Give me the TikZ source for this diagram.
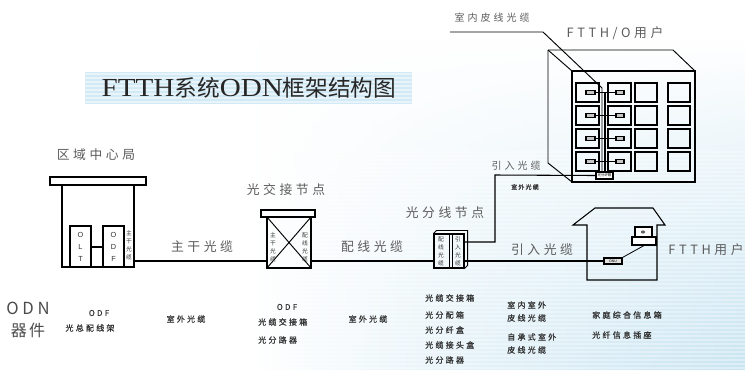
\documentclass[tikz,border=0pt]{standalone}
\usepackage{fontspec}
\setmainfont{Liberation Sans}
\newfontfamily\cjk{Noto Sans CJK SC}
\newfontfamily\titlerm[FakeStretch=1.12]{Liberation Serif}
\usetikzlibrary{fit,fadings,calc}

\definecolor{labgray}{HTML}{5C5C5C}
\definecolor{bgblue}{HTML}{C9E5F2}
\definecolor{titlebg}{HTML}{D2EAF5}
\definecolor{devgray}{HTML}{A0A0A0}

\tikzfading[name=fadeup, top color=transparent!100, bottom color=transparent!0]

\tikzset{
  box/.style={draw, line width=0.8pt, inner sep=0pt, fit={#1}},
  wire/.style={line width=0.8pt},
  biglab/.style={font=\fontsize{9.6}{11}\cjk\addfontfeature{LetterSpace=28}, text=labgray, inner sep=0pt},
  midlab/.style={font=\fontsize{7.5}{9}\cjk\addfontfeature{LetterSpace=30}, text=labgray, inner sep=0pt},
  smalllab/.style={font=\fontsize{6}{7}\cjk\addfontfeature{LetterSpace=28,FakeBold=0.8}, text=black!80, inner sep=0pt},
  tinylab/.style={font=\fontsize{4.5}{5}\cjk\addfontfeature{LetterSpace=20,FakeBold=0.8}, text=black!80, inner sep=0pt},
  vlab/.style={font=\fontsize{4.3}{6}\cjk, align=center, text=black!80, inner sep=0pt},
  vlat/.style={font=\fontsize{5.5}{9}\selectfont, align=center, text=black!80, inner sep=0pt},
}

\begin{document}
\begin{tikzpicture}[x=0.75pt,y=-0.75pt]
\useasboundingbox (0,0) rectangle (745,369);

% ---- background wash with fine horizontal banding ----
\fill[white] (0,0) rectangle (745,369);
\shade[left color=white, right color=bgblue, middle color=bgblue!55, path fading=fadeup]
  (250,40) rectangle (745,369);
\begin{scope}
  \clip (250,150) rectangle (745,369);
  \foreach \yy in {152,156,...,368}
    \draw[white, opacity=0.35, line width=0.9pt] (250,\yy) -- (745,\yy);
\end{scope}

% ---- title ----
\fill[titlebg] (85,72) rectangle (412,104);
\foreach \yy in {74,78,...,102}
  \draw[white, opacity=0.5, line width=0.8pt] (85,\yy) -- (412,\yy);
\node[inner sep=0pt, text=black!85] (title) at (249,88)
  {\fontsize{19.5}{22}\titlerm FTTH\cjk\fontsize{17}{22}\selectfont 系统\titlerm\fontsize{19.5}{22}\selectfont ODN\cjk\fontsize{17}{22}\selectfont 框架结构图};

% ---- regional central office ----
\node[biglab] (colab) at (96,155) {区域中心局};
\node[box={(50,177) (146,185)}] (coroof) {};
\node[box={(62,185) (134,267)}] (cobody) {};
\node[box={(70,226) (91,267)}] (olt) {};
\node[box={(103,226) (124,267)}] (odf) {};
\node[vlat] at (olt.center) {O\\L\\T};
\node[vlat] at (odf.center) {O\\D\\F};
\coordinate (linky) at (0,247);
\draw[wire] (olt.east |- linky) -- (odf.west |- linky);
\node[vlab] (cotrunk) at (129,245) {主\\干\\光\\缆};

% ---- cross-connect node ----
\node[biglab] (cclab) at (286,190) {光交接节点};
\node[box={(261,210) (315,217)}] (cabtop) {};
\node[box={(267,217) (311,268)}] (cab) {};
\draw[line width=0.7pt] (cab.north west) -- (cab.south east) (cab.north east) -- (cab.south west);
\node[vlab] (cabin) at (273,247) {主\\干\\光\\缆};
\node[vlab] (cabout) at (305,247) {配\\线\\光\\缆};

% ---- splitter node ----
\node[biglab] (splab) at (445,213) {光分线节点};
\node[box={(434,234) (464,268)}] (split) {};
\draw[line width=0.7pt] (split.north west) -- ++(3,-3) -| ($(split.south east)+(3,-3)$) -- (split.south east);
\draw[line width=0.6pt] (449,234) -- (449,268) (452,234) -- (452,268);
\node[vlab] (spin) at (441,251) {配\\线\\光\\缆};
\node[vlab] (spout) at (458,251) {引\\入\\光\\缆};

% ---- multi-dwelling building ----
\node[biglab] (mdulab) at (615,33) {FTTH/O用户};
\draw[line width=0.7pt] (548,50) -- (673,50) -- (695,71);
\draw[line width=0.7pt] (548,50) -- (572,71);
\draw[line width=0.7pt] (548,50) -- (548,163) -- (572,182);
\node[box={(572,71) (695,182)}] (bfront) {};
\foreach \r/\yt in {1/83,2/106,3/129,4/152} {
  \foreach \c/\xl/\xr in {1/576/599,2/608/631,3/635/657,4/668/690}
    \node[box={(\xl,\yt) (\xr,\yt+19)}] (apt\r\c) {};
  \node[box={(586,\yt+7.5) (595,\yt+11.5)}, fill=devgray!60] (oa\r) {};
  \node[box={(616,\yt+7.5) (624,\yt+11.5)}, fill=devgray!60] (ob\r) {};
  \draw[wire] (oa\r.east) -- (ob\r.west);
}
\node[box={(596,172) (613,179)}, fill=white] (dbox) {};
\node[font=\fontsize{2.6}{3}\cjk, inner sep=0pt] at (dbox.center) {光分纤箱};
\coordinate (rx1) at (602,0);
\coordinate (rx2) at (605,0);
\draw[wire] (rx2 |- oa1.east) -- (rx2 |- dbox.north);

% indoor drop cable leader
\node[midlab] (indoor) at (492,18) {室内皮线光缆};
\draw[line width=0.7pt] (450,32) -- (543,32) -- (602,88) -- (rx1 |- dbox.north);

% ---- single-family house ----
\draw[line width=0.8pt] (587,280) -- (587,225) -- (573,225) -- (595,208) -- (653,208)
  -- (665,225) -- (657,225) -- (657,280) -- cycle;
\node[box={(635,227) (652,237)}, fill=white] (screen) {};
\fill[black!60] (643,232) ellipse (2.2 and 1.6);
\node[box={(632,237) (656,245)}, fill=white] (kb) {};
\node[box={(604,258) (622,264)}, fill=devgray!30] (onu) {};
\node[font=\fontsize{2.6}{3}\selectfont, inner sep=0pt] at (onu.center) {ONU};
\draw[line width=0.6pt] (onu.north east) -- (kb.south);
\node[biglab] (homelab) at (706,250) {FTTH用户};

% ---- cables ----
\coordinate (mainy) at (0,261);
\coordinate (upy) at (0,242);
\draw[wire] (cobody.east |- mainy) -- (cab.west |- mainy);
\draw[wire] (cab.east |- mainy) -- (split.west |- mainy);
\draw[wire] (split.east |- mainy) -- (onu.west);
\draw[wire] (split.east |- upy) -| (495,175) -- (dbox.west);

\node[biglab] (trunklab) at (202,247) {主干光缆};
\node[biglab] (distlab) at (372,247) {配线光缆};
\node[biglab] (droplab) at (542,250) {引入光缆};
\node[midlab] (droplab2) at (516,166) {引入光缆};
\node[tinylab] (outlab) at (525,187) {室外光缆};

% ---- ODN component rows ----
\node[font=\fontsize{12.5}{14}\cjk\addfontfeature{LetterSpace=22}, text=black!70, inner sep=0pt] (odn) at (28,308) {ODN};
\node[font=\fontsize{12}{14}\cjk\addfontfeature{LetterSpace=15}, text=black!70, inner sep=0pt] (qj) at (28,330) {器件};

\node[smalllab] (c1a) at (99,313) {ODF};
\node[smalllab] (c1b) at (90,328) {光总配线架};
\node[smalllab] (c2) at (186,319) {室外光缆};
\node[smalllab] (c3a) at (287,307) {ODF};
\node[smalllab, anchor=west] (c3b) at (258,322) {光缆交接箱};
\node[smalllab, anchor=west] (c3c) at (258,340) {光分路器};
\node[smalllab] (c4) at (368,319) {室外光缆};
\node[smalllab, anchor=west] (c5a) at (425,298) {光缆交接箱};
\node[smalllab, anchor=west] (c5b) at (425,315) {光分配箱};
\node[smalllab, anchor=west] (c5c) at (425,330) {光分纤盒};
\node[smalllab, anchor=west] (c5d) at (425,345) {光缆接头盒};
\node[smalllab, anchor=west] (c5e) at (425,360) {光分路器};
\node[smalllab, anchor=west] (c6a) at (507,305) {室内室外};
\node[smalllab, anchor=west] (c6b) at (507,318) {皮线光缆};
\node[smalllab, anchor=west] (c6c) at (507,337) {自承式室外};
\node[smalllab, anchor=west] (c6d) at (507,350) {皮线光缆};
\node[smalllab, anchor=west] (c7a) at (592,315) {家庭综合信息箱};
\node[smalllab, anchor=west] (c7b) at (592,335) {光纤信息插座};
\end{tikzpicture}
\end{document}
